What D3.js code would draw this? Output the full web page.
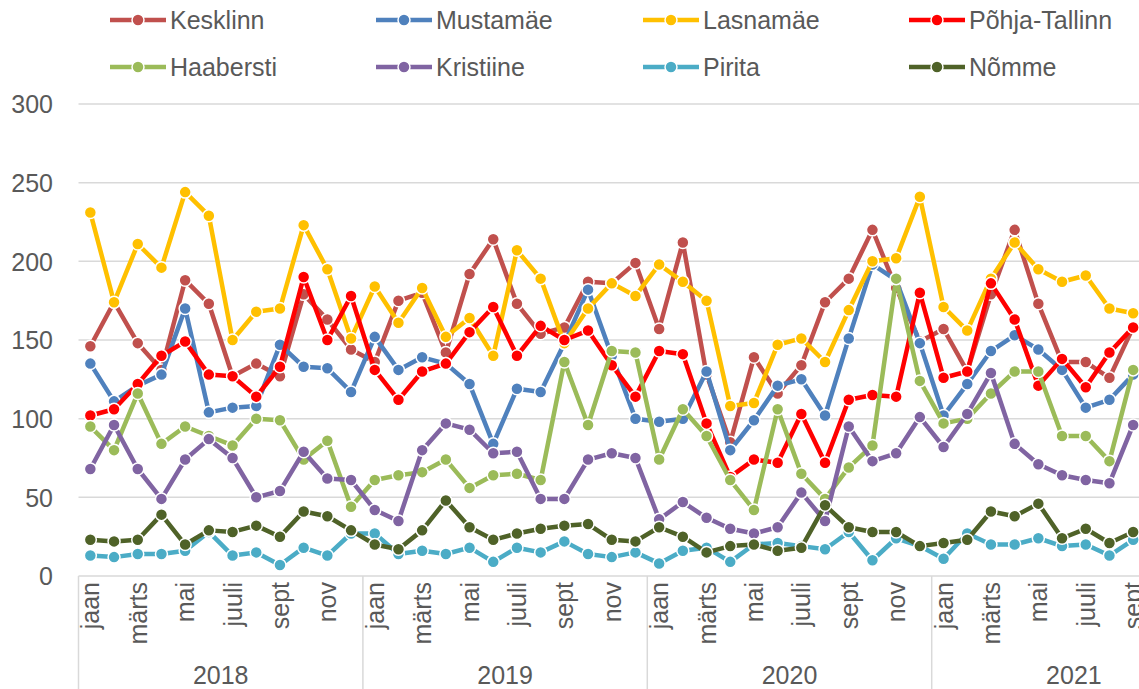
<!DOCTYPE html>
<html>
<head>
<meta charset="utf-8">
<script src="https://cdn.jsdelivr.net/npm/d3@7"></script>
<style>
  html, body { margin: 0; padding: 0; background: #fff; overflow: hidden; }
  svg { display: block; font-family: "Liberation Sans", Arial, sans-serif; }
</style>
</head>
<body>
<svg id="chart" width="1139" height="689"></svg>
<script>
// ---- data ----
const years = ["2018", "2019", "2020", "2021"];
const monthNames = ["jaan","veebr","märts","apr","mai","juuni","juuli","aug","sept","okt","nov","dets"];
const monthsPerYear = [12, 12, 12, 9];
const yTicks = [0, 50, 100, 150, 200, 250, 300];

const seriesNames = ["Kesklinn","Mustamäe","Lasnamäe","Põhja-Tallinn","Haabersti","Kristiine","Pirita","Nõmme"];
const seriesColors = ["#C0504D","#4F81BD","#FFC000","#FF0000","#9BBB59","#8064A2","#4BACC6","#4F6228"];

const kesklinn = [146,174,148,131,188,173,127,135,127,179,163,144, 136,175,180,142,192,214,173,154,158,187,186,199, 157,212,128,85,139,116,134,174,189,220,183,149, 157,130,179,220,173,136,136,126,158];
const mustamae = [135,111,121,128,170,104,107,108,147,133,132,117, 152,131,139,135,122,84,119,117,148,182,140,100, 98,100,130,80,99,121,125,102,151,198,188,148, 102,122,143,153,144,131,107,112,128];
const lasnamae = [231,174,211,196,244,229,150,168,170,223,195,151, 184,161,183,152,164,140,207,189,148,170,186,178, 198,187,175,108,110,147,151,136,169,200,202,241, 171,156,189,212,195,187,191,170,167];
const pohja = [102,106,122,140,149,128,127,114,133,190,150,178, 131,112,130,135,155,171,140,159,150,156,134,114, 143,141,97,63,74,72,103,72,112,115,114,180, 126,130,186,163,121,138,120,142,158];
const haabersti = [95,80,116,84,95,89,83,100,99,74,86,44, 61,64,66,74,56,64,65,61,136,96,143,142, 74,106,89,61,42,106,65,49,69,83,189,124, 97,100,116,130,130,89,89,73,131];
const kristiine = [68,96,68,49,74,87,75,50,54,79,62,61, 42,35,80,97,93,78,79,49,49,74,78,75, 36,47,37,30,27,31,53,35,95,73,78,101, 82,103,129,84,71,64,61,59,96];
const pirita = [13,12,14,14,16,28,13,15,7,18,13,27, 27,14,16,14,18,9,18,15,22,14,12,15, 8,16,18,9,20,21,19,17,28,10,24,19, 11,27,20,20,24,19,20,13,23];
const nomme = [23,22,23,39,20,29,28,32,25,41,38,29, 20,17,29,48,31,23,27,30,32,33,23,22, 31,25,15,19,20,16,18,45,31,28,28,19, 21,23,41,38,46,24,30,21,28];

const seriesValues = [kesklinn, mustamae, lasnamae, pohja, haabersti, kristiine, pirita, nomme];

// ---- build month list ----
const months = [];
years.forEach((yr, yi) => {
  for (let m = 0; m < monthsPerYear[yi]; m++) months.push({ year: yr, month: monthNames[m], mi: m, key: yr + "-" + m });
});

// ---- layout ----
const svg = d3.select("#chart");
const plotLeft = 78.5, bw = 23.7;
const plotRight = plotLeft + months.length * bw;
const plotTop = 104, plotBottom = 576;
const fontSize = 25;
const textColor = "#595959";
const gridColor = "#D9D9D9";

const x = d3.scaleBand().domain(months.map(d => d.key)).range([plotLeft, plotRight]).padding(0);
const cx = k => x(k) + x.bandwidth() / 2;
const y = d3.scaleLinear().domain([0, 300]).range([plotBottom, plotTop]);

// gridlines
svg.append("g").selectAll("line").data(yTicks).join("line")
  .attr("x1", plotLeft).attr("x2", plotRight)
  .attr("y1", d => y(d)).attr("y2", d => y(d))
  .attr("stroke", gridColor).attr("stroke-width", 1.5);

// y axis labels
const yAxis = d3.axisLeft(y).tickValues(yTicks).tickSize(0).tickPadding(0);
const gy = svg.append("g").attr("transform", `translate(${53},0)`).call(yAxis);
gy.select(".domain").remove();
gy.selectAll("text").attr("font-size", fontSize).attr("fill", textColor)
  .attr("font-family", "'Liberation Sans', Arial, sans-serif").attr("dy", "0.35em");

// year separators
let acc = 0;
const bounds = [0];
monthsPerYear.forEach(n => { acc += n; bounds.push(acc); });
const sepX = bounds.map(b => plotLeft + b * bw);
svg.append("g").selectAll("line").data(sepX.slice(0, 4)).join("line")
  .attr("x1", d => d).attr("x2", d => d)
  .attr("y1", plotBottom).attr("y2", 689)
  .attr("stroke", gridColor).attr("stroke-width", 1.5);

// month labels (every other month)
svg.append("g").selectAll("text").data(months.filter(d => d.mi % 2 === 0)).join("text")
  .attr("transform", d => `translate(${cx(d.key)},${plotBottom + 6}) rotate(-90)`)
  .attr("text-anchor", "end").attr("dy", "0.36em")
  .attr("font-size", fontSize).attr("fill", textColor)
  .text(d => d.month);

// year labels
svg.append("g").selectAll("text").data(years).join("text")
  .attr("x", (d, i) => plotLeft + (bounds[i] + 6) * bw)
  .attr("y", 684)
  .attr("text-anchor", "middle")
  .attr("font-size", fontSize).attr("fill", textColor)
  .text(d => d);

// series
const line = d3.line().x((d, i) => cx(months[i].key)).y(d => y(d));
seriesValues.forEach((vals, si) => {
  const g = svg.append("g");
  g.append("path").datum(vals).attr("d", line)
    .attr("fill", "none").attr("stroke", seriesColors[si]).attr("stroke-width", 4.5)
    .attr("stroke-linejoin", "round");
  g.selectAll("circle").data(vals).join("circle")
    .attr("cx", (d, i) => cx(months[i].key)).attr("cy", d => y(d))
    .attr("r", 6).attr("fill", seriesColors[si])
    .attr("stroke", "#fff").attr("stroke-width", 1.5);
});

// legend
const legCols = [110, 376, 643, 909];
const legRows = [20, 67];
const leg = svg.append("g");
seriesNames.forEach((name, i) => {
  const lx = legCols[i % 4], ly = legRows[Math.floor(i / 4)];
  const g = leg.append("g").attr("transform", `translate(${lx},${ly})`);
  g.append("line").attr("x1", 0).attr("x2", 56).attr("y1", 0).attr("y2", 0)
    .attr("stroke", seriesColors[i]).attr("stroke-width", 4.5);
  g.append("circle").attr("cx", 28).attr("cy", 0).attr("r", 6)
    .attr("fill", seriesColors[i]).attr("stroke", "#fff").attr("stroke-width", 1.5);
  g.append("text").attr("x", 60).attr("y", 0).attr("dy", "0.35em")
    .attr("font-size", fontSize).attr("fill", textColor).text(name);
});
</script>
</body>
</html>
